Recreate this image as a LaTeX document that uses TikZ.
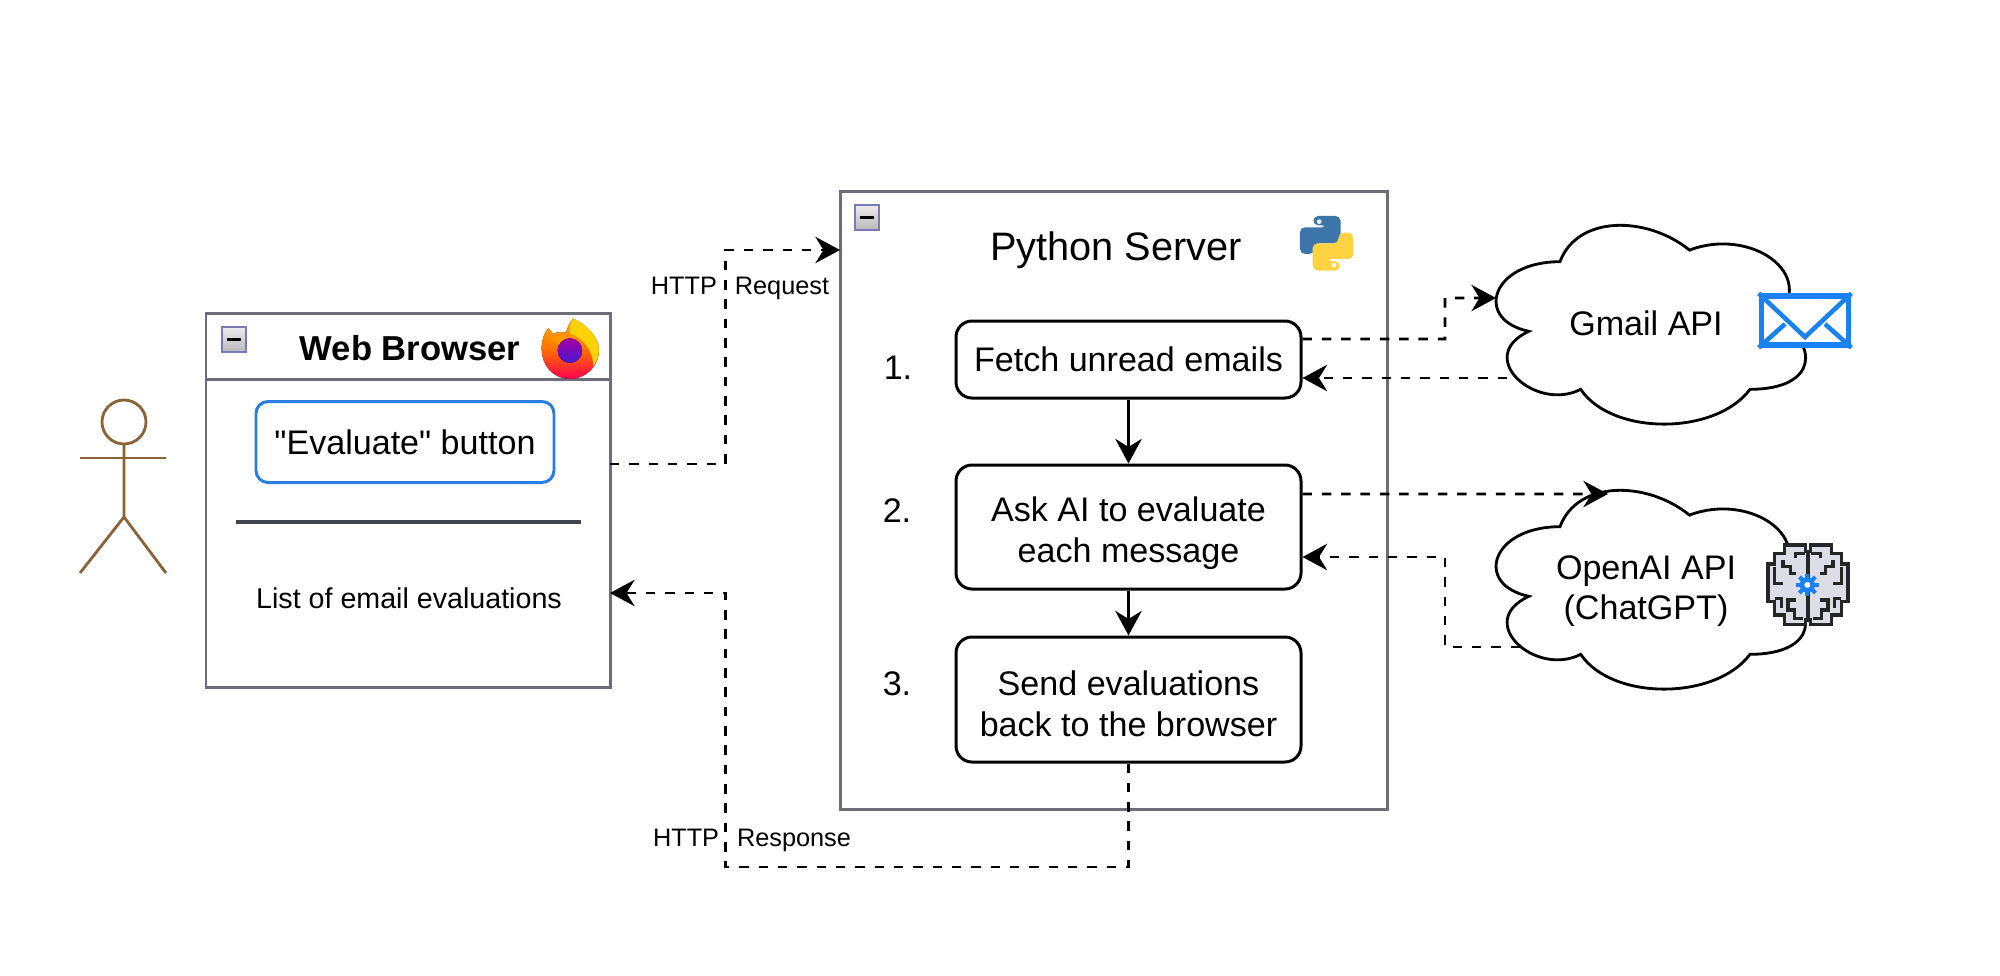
\documentclass[tikz,border=0pt]{standalone}
\usepackage{fontspec}
\setmainfont{Liberation Sans}[Ligatures=TeXOff]
\usetikzlibrary{arrows.meta}
\definecolor{panelgray}{HTML}{6E6E78}
\definecolor{actorbrown}{HTML}{8C6239}
\definecolor{btnblue}{HTML}{2A7DE1}
\definecolor{iconblue}{HTML}{1A82F0}
\definecolor{pyblue}{HTML}{3B75A9}
\definecolor{pyyellow}{HTML}{FFD244}
\definecolor{brainfill}{HTML}{DCDDE6}
\definecolor{rulegray}{HTML}{44444F}
\tikzset{
	panel/.style={draw=panelgray, line width=.85pt, inner sep=0pt, outer sep=0pt},
	stepbox/.style={draw=black, line width=.85pt, rounded corners=.16cm, minimum width=3.45cm, align=center, font=\fontsize{9.7pt}{11.6pt}\selectfont},
	minusbox/.style={draw=gray!70!blue!80, line width=.8pt, top color=gray!15, bottom color=gray!55, minimum width=.24cm, minimum height=.25cm, inner sep=0pt},
	cloudline/.style={draw=black, fill=white, line width=.8pt},
	dashline/.style={line width=.84pt, dash pattern=on 2.7pt off 2.8pt, -{Stealth[length=7pt,width=7.5pt,inset=2.3pt]}},
	solidline/.style={line width=.85pt, -{Stealth[length=7pt,width=7.5pt,inset=2.3pt]}},
	smalltext/.style={font=\fontsize{7.2pt}{9pt}\selectfont},
	plaintext/.style={align=center, font=\fontsize{9.7pt}{11.6pt}\selectfont},
	apicloud/.pic={
		\draw[cloudline, x=3.455cm, y=-2.32cm] (.25,.25) .. controls (.05,.25) and (0,.5) .. (.16,.55) .. controls (0,.66) and (.18,.9) .. (.31,.8) .. controls (.4,1) and (.7,1) .. (.8,.8) .. controls (1,.8) and (1,.6) .. (.875,.5) .. controls (1,.3) and (.8,.1) .. (.625,.2) .. controls (.5,.05) and (.3,.05) .. (.25,.25) -- cycle;
	}
}
\begin{document}
\begin{tikzpicture}[y=-1cm]
	\useasboundingbox (0,0) rectangle (20,9.75);

	% draw the person
	\draw[actorbrown, line width=.8pt] (1.24,4.22) circle [radius=.22];
	\draw[actorbrown, line width=.8pt] (1.24,4.44) -- (1.24,5.17) -- (.80,5.73);
	\draw[actorbrown, line width=.8pt] (1.24,5.17) -- (1.66,5.73);
	\draw[actorbrown, line width=.8pt] (.80,4.58) -- (1.66,4.58);

	% draw the browser window
	\node (browser) [panel, minimum width=4.04cm, minimum height=3.74cm] at (4.08,5.00) {};
	\draw[panelgray, line width=.85pt] (browser.west |- 0,3.79) -- (browser.east |- 0,3.79);
	\node (browsermin) [minusbox] at (2.34,3.395) {};
	\draw[line width=.85pt] (browsermin.center) +(-.07,0) -- +(.07,0);
	\node (browsertitle) [font=\fontsize{9.85pt}{12pt}\selectfont\bfseries] at (4.10,3.48) {Web Browser};
	\node (evalbtn) [draw=btnblue, line width=.85pt, rounded corners=.12cm, minimum width=2.98cm, minimum height=.81cm, inner sep=0pt, font=\fontsize{9.7pt}{11.6pt}\selectfont] at (4.05,4.42) {"Evaluate" button};
	\draw[rulegray, line width=1pt] (2.36,5.22) -- (5.81,5.22);
	\node (evallist) [font=\fontsize{8.15pt}{10pt}\selectfont] at (4.09,5.98) {List of email evaluations};

	% draw the firefox logo
	\begin{scope}[shift={(5.30,3.10)},x=.00333cm,y=-.00333cm]
		\fill[top color=orange!60!yellow, bottom color=red!70!magenta, middle color=orange!90!red] (130,25) .. controls (170,45) and (207,80) .. (207,120) .. controls (207,170) and (168,207) .. (120,207) .. controls (72,207) and (35,170) .. (35,115) .. controls (35,90) and (42,70) .. (55,55) -- (70,72) .. controls (85,64) and (100,66) .. (108,68) .. controls (112,55) and (118,40) .. (130,25) -- cycle;
		\fill[yellow!70!orange] (130,25) .. controls (170,45) and (207,80) .. (207,120) .. controls (207,140) and (200,155) .. (190,170) .. controls (190,120) and (160,85) .. (120,70) .. controls (118,55) and (122,40) .. (130,25) -- cycle;
		\fill[orange!80!yellow] (62,82) .. controls (90,80) and (120,72) .. (155,95) .. controls (120,85) and (100,100) .. (95,115) .. controls (85,100) and (70,95) .. (62,82) -- cycle;
		\fill[top color=violet!70!magenta, bottom color=blue!60!violet!90!white] (120,122) circle [radius=37];
	\end{scope}

	% draw the python server
	\node (server) [panel, minimum width=5.47cm, minimum height=6.18cm] at (11.135,5.00) {};
	\node (servermin) [minusbox] at (8.67,2.175) {};
	\draw[line width=.85pt] (servermin.center) +(-.07,0) -- +(.07,0);
	\node (servertitle) [font=\fontsize{11.3pt}{13pt}\selectfont] at (11.16,2.50) {Python Server};

	% draw the python logo
	\begin{scope}[shift={(12.90,2.10)},x=.00333cm,y=-.00333cm]
		\foreach \snakecolor/\turn in {pyblue/0,pyyellow/180} {
			\begin{scope}[rotate around={\turn:(110,100)}]
				\fill[\snakecolor, rounded corners=.05cm] (112,52) -- (30,52) -- (30,132) -- (74,132) -- (74,100) -- (152,100) -- (152,18) -- (70,18) -- (70,46) -- (112,46) -- cycle;
				\fill[white] (88,35) circle [radius=7];
			\end{scope}
		}
	\end{scope}

	% draw the three steps
	\node (step1) [stepbox, minimum height=.77cm] at (11.285,3.595) {Fetch unread emails};
	\node (step2) [stepbox, minimum height=1.24cm, text height=22pt] at (11.285,5.27) {Ask AI to evaluate\\each message};
	\node (step3) [stepbox, minimum height=1.25cm, text height=21pt] at (11.285,6.995) {Send evaluations\\back to the browser};
	\node (num1) [plaintext] at (8.98,3.68) {1.};
	\node (num2) [plaintext] at (8.97,5.11) {2.};
	\node (num3) [plaintext] at (8.97,6.84) {3.};
	\draw[solidline] (step1) -- (step2);
	\draw[solidline] (step2) -- (step3);

	% draw the two clouds
	\pic at (14.736,2.037) {apicloud};
	\pic at (14.736,4.687) {apicloud};
	\node (gmail) [plaintext] at (16.46,3.235) {Gmail API};
	\node (openai) [plaintext] at (16.46,5.91) {OpenAI API\\(ChatGPT)};
	\coordinate (gmailin) at (14.96,2.98);
	\coordinate (gmailout) at (15.07,3.78);
	\coordinate (openaiin) at (16.08,4.94);
	\coordinate (openaiout) at (15.20,6.47);

	% draw the mail icon
	\node (mail) [draw=iconblue, fill=white, line width=1.5pt, minimum width=.875cm, minimum height=.49cm, inner sep=0pt] at (18.05,3.205) {};
	\draw[iconblue, line width=1.3pt] (mail.north west) -- (18.05,3.37) -- (mail.north east);
	\draw[iconblue, line width=1.3pt] (mail.south west) -- (17.85,3.24);
	\draw[iconblue, line width=1.3pt] (mail.south east) -- (18.25,3.24);

	% draw the brain icon
	\begin{scope}[shift={(18.08,5.40)},x=.00333cm,y=-.00333cm]
		\foreach \side in {1,-1} {
			\begin{scope}[xscale=\side]
				\filldraw[fill=brainfill, draw=black!85, line width=.95pt] (0,35) -- (-8,35) -- (-8,15) -- (-70,15) -- (-70,40) -- (-100,40) -- (-100,72) -- (-120,72) -- (-120,185) -- (-100,185) -- (-100,225) -- (-70,225) -- (-70,255) -- (-8,255) -- (-8,240) -- (0,240) -- cycle;
				\draw[black!85, line width=.95pt] (-38,55) -- (-38,40) -- (-8,40);
				\draw[black!85, line width=.95pt] (-75,60) -- (-75,80) -- (-53,80) -- (-53,100) -- (-37,100);
				\draw[black!85, line width=.95pt] (-100,80) -- (-100,130) -- (-75,130);
				\draw[black!85, line width=.95pt] (-100,175) -- (-80,175) -- (-80,205);
				\draw[black!85, line width=.95pt] (-35,180) -- (-60,180) -- (-60,210) -- (-40,210) -- (-40,235) -- (-15,235);
			\end{scope}
		}
		\draw[black!85, line width=.95pt] (0,35) -- (0,240);
		\foreach \tooth in {0,45,...,315} {
			\draw[iconblue, line width=1.15pt] (-2,135) ++(\tooth:20) -- ++(\tooth:14);
		}
		\draw[iconblue, line width=1.33pt, fill=white] (-2,135) circle [radius=17];
	\end{scope}

	% draw the connections between the boxes
	\coordinate (browserout) at (6.10,4.64);
	\coordinate (browserin) at (6.10,5.93);
	\draw[dashline] (browserout) -- (7.255,4.64) -- (7.255,2.50) -- (server.west |- 0,2.50);
	\draw[dashline] (step3.south) -- (11.285,8.67) -- (7.255,8.67) -- (7.255,5.93) -- (browserin);
	\draw[dashline] ([yshift=.205cm]step1.east) -- (14.45,3.39) -- (14.45,2.98) -- (gmailin);
	\draw[dashline] (gmailout) -- ([yshift=-.185cm]step1.east);
	\draw[dashline] ([yshift=.33cm]step2.east) -- (openaiin);
	\draw[dashline] (openaiout) -- (14.45,6.47) -- (14.45,5.57) -- ([yshift=-.30cm]step2.east);

	% draw the labels of the http connections
	\node (reqlabel) [smalltext] at (7.40,2.88) {HTTP\hspace{5.1pt}Request};
	\node (resplabel) [smalltext] at (7.52,8.40) {HTTP\hspace{5.1pt}Response};
\end{tikzpicture}
\end{document}
